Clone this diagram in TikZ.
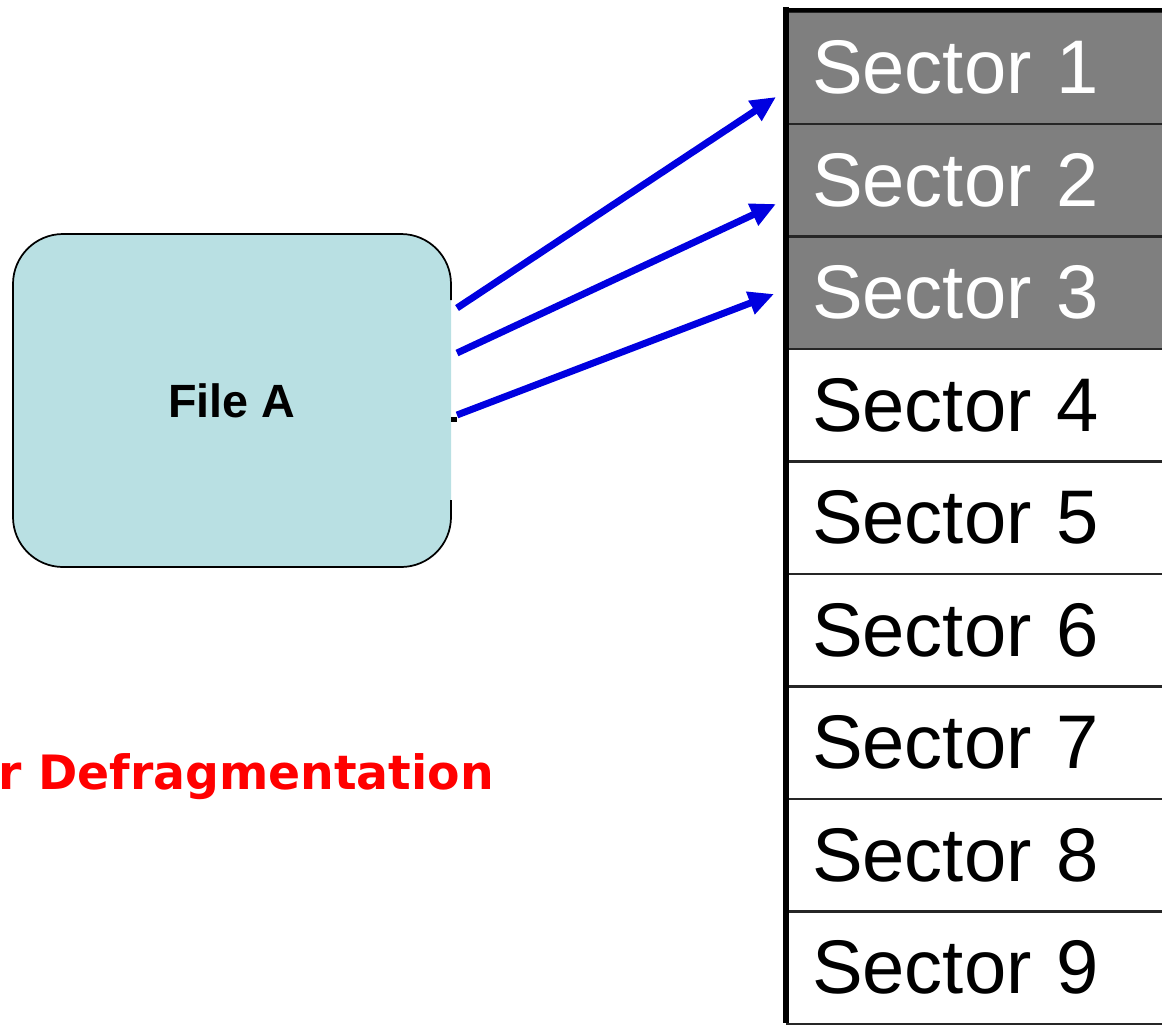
\documentclass[tikz,border=0pt]{standalone}
\usepackage{fontspec}
\setmainfont{Liberation Sans}
\newfontfamily\redfont{DejaVu Sans}
\usetikzlibrary{arrows.meta}
\definecolor{boxfill}{HTML}{B9E0E3}
\definecolor{secgray}{HTML}{7F7F7F}
\definecolor{arrblue}{HTML}{0000E0}
\definecolor{redtxt}{HTML}{FF0000}
\tikzset{
  sector/.style={draw=black!85, line width=2pt, minimum width=330pt, minimum height=84.4pt,
    anchor=north west, inner sep=0pt, text width=300pt, align=left,
    font=\fontsize{57}{60}\selectfont},
  used/.style={fill=secgray, text=white},
  free/.style={fill=white, text=black},
  blueArrow/.style={draw=arrblue, line width=5.2pt, -{Triangle[length=19pt,width=17pt]}, shorten >=0pt},
}
\begin{document}
\begin{tikzpicture}[x=0.75pt, y=-0.75pt]
\useasboundingbox (0,0) rectangle (1162,1025);
\clip (0,0) rectangle (1162,1025);
% File A box
\node[fill=boxfill, rounded corners=37.5pt, minimum width=328.5pt, minimum height=249.75pt, inner sep=0pt,
  font=\fontsize{35}{40}\selectfont\bfseries] (fileA) at (232,400.5) {File A};
\draw[line width=1.3pt, rounded corners=37.5pt] (451,300) -- (451,234) -- (13,234) -- (13,567) -- (451,567) -- (451,500);
\fill[black] (451,417) rectangle (457,422);
% sectors
\foreach \i/\st in {1/used,2/used,3/used,4/free,5/free,6/free,7/free,8/free,9/free}{
  \node[sector, \st] (sec\i) at (786,{10+(\i-1)*112.5}) {\hspace*{3.5pt}Sector \i};
}
\draw[line width=4pt] (786,7) -- (786,1023);
\draw[line width=2.5pt] (786,10) -- (1170,10);
% arrows
\coordinate (s1) at (457,308);
\coordinate (s2) at (457,353);
\coordinate (s3) at (457,415);
\coordinate (t1) at (776,97);
\coordinate (t2) at (776,204);
\coordinate (t3) at (774,294);
\draw[blueArrow] (s1) -- (t1);
\draw[blueArrow] (s2) -- (t2);
\draw[blueArrow] (s3) -- (t3);
% label
\node[anchor=base west, inner sep=0pt, text=redtxt, font=\redfont\bfseries\fontsize{35.5}{40}\selectfont] (lbl) at (-2,789) {r Defragmentation};
\end{tikzpicture}
\end{document}
